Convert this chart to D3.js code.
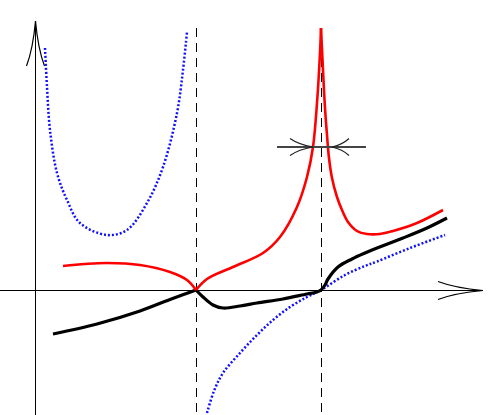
<!DOCTYPE html>
<html>
<head>
<meta charset="utf-8">
<script src="https://cdn.jsdelivr.net/npm/d3@7"></script>
<style>
    body { margin: 0; background: #fff; }
    svg { display: block; }
</style>
</head>
<body>
<svg id="chart" width="498" height="415"></svg>
<script>
// curve samples, [x, y] in plot units (origin = axes crossing)
const redLeft = [[1.12, 0.96], [2.0, 1.04], [2.88, 1.08], [4.2, 1.0], [5.4, 0.72], [6.08, 0.40], [6.44, 0]];
const redRise = [[6.44, 0], [6.88, 0.44], [7.92, 0.92], [9.12, 1.48], [9.8, 2.12], [10.48, 3.32],
    [10.88, 4.52], [11.12, 5.72], [11.28, 7.48], [11.4, 9.48], [11.44, 10.48]];
const redFall = [[11.44, 10.48], [11.52, 8.8], [11.6, 7.28], [11.68, 6.2], [11.76, 5.28], [11.88, 4.48],
    [12.08, 3.72], [12.28, 3.2], [12.52, 2.72], [12.88, 2.36], [13.28, 2.24], [13.8, 2.24],
    [14.32, 2.36], [15.28, 2.68], [16.32, 3.2]];

const blackLeft = [[0.72, -1.76], [2.48, -1.36], [4.2, -0.84], [5.4, -0.38], [6.0, -0.16], [6.44, 0]];
const blackRight = [[6.44, 0], [6.72, -0.28], [7.12, -0.6], [7.52, -0.72], [8.2, -0.64], [8.88, -0.52],
    [9.92, -0.36], [10.88, -0.16], [11.24, -0.09], [11.44, 0], [11.6, 0.2], [11.72, 0.44], [12.12, 0.92],
    [12.68, 1.24], [13.2, 1.48], [13.68, 1.68], [14.72, 2.08], [15.68, 2.48], [16.48, 2.88]];

const blueLeft = [[0.4, 9.68], [0.48, 8.12], [0.6, 6.4], [0.88, 4.68], [1.28, 3.6], [1.8, 2.68],
    [2.88, 2.2], [3.68, 2.4], [4.48, 3.48], [5.12, 4.92], [5.68, 7.08], [5.92, 8.8], [6.08, 10.32]];
const blueRight = [[6.88, -4.92], [7.16, -4.04], [7.52, -3.32], [8.2, -2.52], [8.88, -1.8], [9.52, -1.2],
    [10.2, -0.68], [10.88, -0.28], [11.44, 0], [12.4, 0.6], [13.2, 0.96], [13.68, 1.14], [15.0, 1.68],
    [16.4, 2.2]];

const poles = [6.44, 11.44];
// width marker: level, arrow tips, outer ends
const markerLevel = 5.72;
const markerTips = [11.12, 11.88];
const markerEnds = [9.68, 13.24];

const svg = d3.select('#chart');
const height = +svg.attr('height');

const x = d3.scaleLinear().domain([0, 18.52]).range([35, 498]);
const y = d3.scaleLinear().domain([0, 11.6]).range([290, 0]);

const line = d3.line()
    .x(d => x(d[0]))
    .y(d => y(d[1]))
    .curve(d3.curveCatmullRom.alpha(0.5));

// curved barbs going back from the tip along (dx, dy)
function arrowHead(g, tx, ty, dx, dy, opts) {
    const o = Object.assign({len: 45, spread: 9}, opts);
    [-1, 1].forEach(s => {
        const nx = -dy * s, ny = dx * s;
        const cx = tx + dx * o.len * 0.62 + nx * o.spread * 0.28;
        const cy = ty + dy * o.len * 0.62 + ny * o.spread * 0.28;
        const ex = tx + dx * o.len + nx * o.spread;
        const ey = ty + dy * o.len + ny * o.spread;
        g.append('path')
            .attr('d', `M${tx},${ty}Q${cx},${cy} ${ex},${ey}`)
            .attr('fill', 'none')
            .attr('stroke', o.color || '#000')
            .attr('stroke-width', o.w || 1.2);
    });
}

// axes
const axes = svg.append('g');
axes.append('line')
    .attr('x1', 0).attr('x2', 483)
    .attr('y1', y(0) + 0.5).attr('y2', y(0) + 0.5)
    .attr('stroke', '#000').attr('stroke-width', 1);
axes.append('line')
    .attr('x1', x(0) + 0.5).attr('x2', x(0) + 0.5)
    .attr('y1', height).attr('y2', 21)
    .attr('stroke', '#000').attr('stroke-width', 1);
arrowHead(axes, 483, y(0) + 0.5, -1, 0);
arrowHead(axes, x(0) + 0.5, 21, 0, 1);

// pole asymptotes
svg.append('g').selectAll('line')
    .data(poles)
    .join('line')
    .attr('x1', d => x(d) + 0.5).attr('x2', d => x(d) + 0.5)
    .attr('y1', 28).attr('y2', height)
    .attr('stroke', '#000')
    .attr('stroke-width', 1)
    .attr('stroke-dasharray', '9,6');

// curves
const curves = [
    {data: blueLeft, color: '#1010ff', w: 2.5, dash: '2,2'},
    {data: blueRight, color: '#1010ff', w: 2.5, dash: '2,2'},
    {data: blackLeft, color: '#000', w: 3.2},
    {data: blackRight, color: '#000', w: 3.2},
    {data: redLeft, color: '#ff0000', w: 2.6},
    {data: redRise, color: '#ff0000', w: 2.6},
    {data: redFall, color: '#ff0000', w: 2.6}
];

svg.append('g').selectAll('path')
    .data(curves)
    .join('path')
    .attr('d', d => line(d.data))
    .attr('fill', 'none')
    .attr('stroke', d => d.color)
    .attr('stroke-width', d => d.w)
    .attr('stroke-dasharray', d => d.dash || null)
    .attr('stroke-linejoin', 'round');

// bandwidth marker
const marker = svg.append('g');
marker.append('line')
    .attr('x1', x(markerEnds[0])).attr('x2', x(markerEnds[1]))
    .attr('y1', y(markerLevel)).attr('y2', y(markerLevel))
    .attr('stroke', '#444').attr('stroke-width', 2);
arrowHead(marker, x(markerTips[0]), y(markerLevel), -1, 0, {len: 23, spread: 8.5, color: '#222'});
arrowHead(marker, x(markerTips[1]), y(markerLevel), 1, 0, {len: 17, spread: 8.5, color: '#222'});
</script>
</body>
</html>
